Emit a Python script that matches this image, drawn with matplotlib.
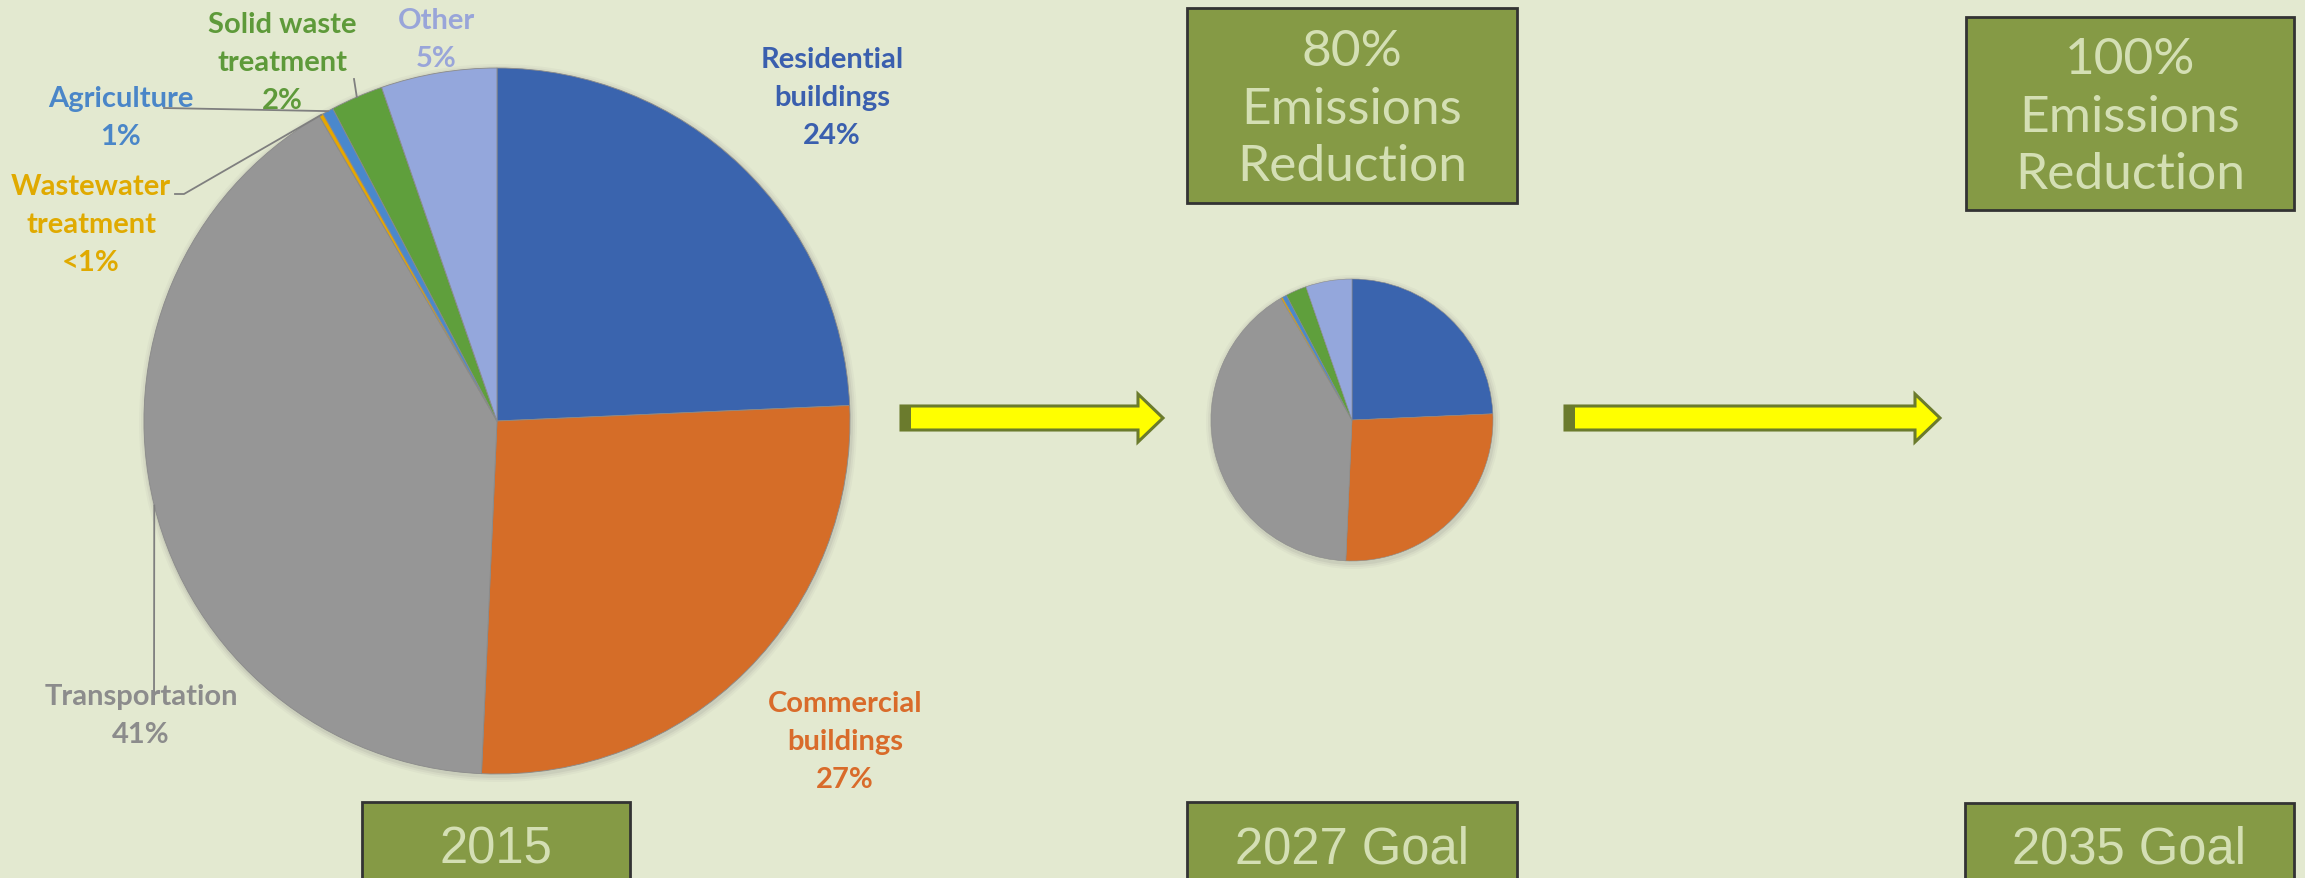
import numpy as np
import matplotlib.pyplot as plt
from matplotlib.patches import Rectangle, FancyArrow, Circle

# ------------------ DATA ------------------
categories = ['Residential buildings', 'Commercial buildings', 'Transportation',
              'Wastewater treatment', 'Agriculture', 'Solid waste treatment', 'Other']
label_names = ['Residential\nbuildings', 'Commercial\nbuildings', 'Transportation',
               'Wastewater\ntreatment', 'Agriculture', 'Solid waste\ntreatment', 'Other']
shares_2015 = [24.3, 26.4, 40.9, 0.2, 0.5, 2.4, 5.3]   # % of 2015 emissions
pct_labels = ['24%', '27%', '41%', '<1%', '1%', '2%', '5%']

goal_texts = ['80%\nEmissions\nReduction', '100%\nEmissions\nReduction']
year_texts = ['2015', '2027 Goal', '2035 Goal']
# ------------------------------------------

slice_colors = ['#3a64ae', '#d56d28', '#969696', '#e6a700', '#4a88cc', '#5f9f3c', '#94a7dc']
text_colors = ['#3a5fae', '#d96b2a', '#8c8c8c', '#e0aa00', '#4a86c8', '#5e9a3a', '#99a5d9']

bg = '#e3e9d0'
box_fc = '#859a45'
box_tc = '#d4dfb4'
arrow_ec = '#6b7b2d'

W, H = 2305, 879
fig = plt.figure(figsize=(W / 100, H / 100), dpi=100)
fig.patch.set_facecolor(bg)
ax = fig.add_axes([0, 0, 1, 1])
ax.set_facecolor(bg)

big_c, big_r = (497, 422), 353
small_c, small_r = (1352, 421), 141

# soft shadow behind the pies
for (cx, cy), r in [(big_c, big_r), (small_c, small_r)]:
    for k, a in [(6, 0.05), (4, 0.07), (2, 0.10)]:
        ax.add_patch(Circle((cx + 1, cy + 2), r + k, fc='#6f6f6f', ec='none', alpha=a, zorder=0))

# pies (y axis is inverted, so startangle=-90 + counterclock gives top start, clockwise)
wedges, _ = ax.pie(shares_2015, colors=slice_colors, startangle=-90, counterclock=True,
                   center=big_c, radius=big_r,
                   wedgeprops=dict(edgecolor='#8a8a8a', linewidth=0.6, zorder=1))
ax.pie(shares_2015, colors=slice_colors, startangle=-90, counterclock=True,
       center=small_c, radius=small_r,
       wedgeprops=dict(edgecolor='#8a8a8a', linewidth=0.4, zorder=1))

ax.set_xlim(0, W)
ax.set_ylim(H, 0)
ax.axis('off')

# labels of the 2015 pie
label_pos = [(832, 98), (845, 742), (141, 716), (91, 225), (121, 118), (282, 63), (436, 40)]
for name, pct, col, (lx, ly) in zip(label_names, pct_labels, text_colors, label_pos):
    ax.text(lx, ly, f'{name}\n{pct}', color=col, ha='center', va='center',
            fontsize=21, fontweight='bold', family='Lato', linespacing=1.55, zorder=5)

# leader lines: start point -> middle of the slice edge
leaders = {2: [(154, 705)], 3: [(175, 195), (184, 195)], 4: [(164, 109)], 5: [(354, 80)]}
for i, pts in leaders.items():
    w = wedges[i]
    mid = np.deg2rad((w.theta1 + w.theta2) / 2)
    px = big_c[0] + big_r * np.cos(mid)
    py = big_c[1] + big_r * np.sin(mid)
    xs = [p[0] for p in pts] + [px]
    ys = [p[1] for p in pts] + [py]
    ax.plot(xs, ys, color='#7f7f7f', lw=1.3, zorder=4)

# arrows
for x0, x1 in [(901, 1163), (1565, 1940)]:
    ax.add_patch(FancyArrow(x0, 419, x1 - x0, 0, width=24, head_width=48, head_length=25,
                            length_includes_head=True, fc='#ffff00', ec=arrow_ec, lw=2.2))
    ax.add_patch(Rectangle((x0, 407), 10, 24, fc=arrow_ec, ec='none'))

# goal boxes on top
for (bx, by, bw, bh), txt in zip([(1187, 9, 330, 195), (1966, 18, 328, 193)], goal_texts):
    ax.add_patch(Rectangle((bx, by), bw, bh, fc=box_fc, ec='#333333', lw=2))
    ax.text(bx + bw / 2, by + bh / 2 + 3, txt, color=box_tc, ha='center', va='center',
            fontsize=37, family='Lato', linespacing=1.3)

# year boxes at the bottom
for (bx, by, bw), txt in zip([(362, 803, 268), (1187, 803, 330), (1965, 804, 329)], year_texts):
    ax.add_patch(Rectangle((bx, by), bw, 120, fc=box_fc, ec='#333333', lw=2))
    ax.text(bx + bw / 2, 850, txt, color=box_tc, ha='center', va='center',
            fontsize=36.5, family='Liberation Sans')

fig.savefig('out.png', dpi=100, facecolor=bg)
